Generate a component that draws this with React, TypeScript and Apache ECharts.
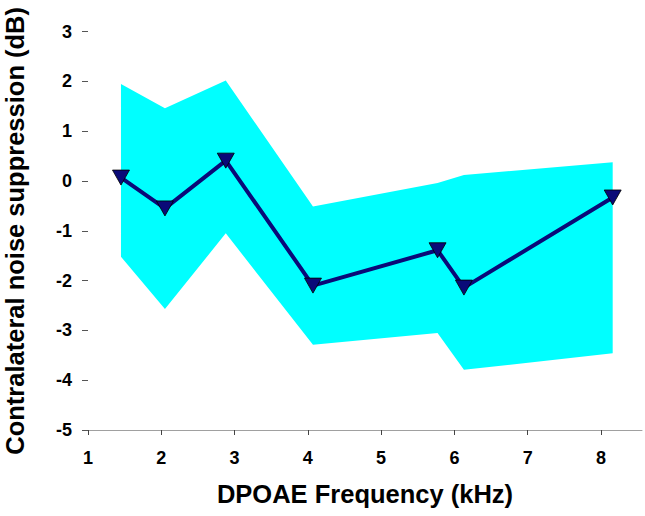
import React, { useEffect, useRef } from "react";
import * as echarts from "echarts";

const freq = [1.45, 2.05, 2.88, 4.07, 5.77, 6.13, 8.16];
const meanSuppression = [0.07, -0.55, 0.41, -2.1, -1.39, -2.14, -0.33];
const upperBound = [1.95, 1.46, 2.02, -0.51, -0.04, 0.12, 0.38];
const lowerBound = [-1.52, -2.57, -1.05, -3.29, -3.05, -3.79, -3.46];
const xTicks = [1, 2, 3, 4, 5, 6, 7, 8];
const yTicks = [-5, -4, -3, -2, -1, 0, 1, 2, 3];

const FONT = "Arial, 'Liberation Sans', Helvetica, sans-serif";

export default function App() {
  const ref = useRef<HTMLDivElement>(null);
  useEffect(() => {
    if (!ref.current) return;
    const chart = echarts.init(ref.current, undefined, { renderer: "svg" });
    const bandData = freq.map((f, i) => [f, upperBound[i], lowerBound[i]]);
    chart.setOption({
      animation: false,
      backgroundColor: "#ffffff",
      grid: {
        left: 88,
        right: 3,
        top: 31.7,
        bottom: 86,
        containLabel: false,
        outerBoundsMode: "none",
      },
      xAxis: {
        type: "value",
        min: 1,
        max: 8.56,
        interval: 1,
        name: "DPOAE Frequency (kHz)",
        nameLocation: "middle",
        nameGap: 51,
        nameTextStyle: { fontFamily: FONT, fontWeight: "bold", fontSize: 25.5, color: "#000" },
        axisLine: { show: true, onZero: false, lineStyle: { color: "#a0a0a0", width: 1 } },
        axisTick: {
          show: true,
          length: 5,
          lineStyle: { color: "#444", width: 1 },
          customValues: xTicks,
        },
        axisLabel: {
          fontFamily: FONT,
          fontWeight: "bold",
          fontSize: 18,
          color: "#000",
          margin: 19,
          customValues: xTicks,
        },
        splitLine: { show: false },
      },
      yAxis: {
        type: "value",
        min: -5,
        max: 3,
        interval: 1,
        name: "Contralateral noise suppression (dB)",
        nameLocation: "middle",
        nameRotate: 90,
        nameGap: 60,
        nameTextStyle: { fontFamily: FONT, fontWeight: "bold", fontSize: 25.5, color: "#000" },
        axisLine: { show: false, onZero: false },
        axisTick: {
          show: true,
          length: 6,
          lineStyle: { color: "#555", width: 1 },
          customValues: yTicks,
        },
        axisLabel: {
          fontFamily: FONT,
          fontWeight: "bold",
          fontSize: 18,
          color: "#000",
          margin: 16,
          customValues: yTicks,
        },
        splitLine: { show: false },
      },
      series: [
        {
          type: "custom",
          name: "band",
          data: bandData,
          encode: { x: 0, y: [1, 2] },
          silent: true,
          z: 1,
          renderItem: (params: any, api: any) => {
            if (params.dataIndex !== 0) return null;
            const pts: number[][] = [];
            for (let i = 0; i < freq.length; i++) pts.push(api.coord([freq[i], upperBound[i]]));
            for (let i = freq.length - 1; i >= 0; i--) pts.push(api.coord([freq[i], lowerBound[i]]));
            return {
              type: "polygon",
              shape: { points: pts },
              style: { fill: "#00ffff", stroke: "none" },
            };
          },
        },
        {
          type: "line",
          name: "mean",
          data: freq.map((f, i) => [f, meanSuppression[i]]),
          z: 3,
          lineStyle: { color: "#0a0a78", width: 4 },
          symbol: "triangle",
          symbolRotate: 180,
          symbolSize: [17, 15],
          itemStyle: { color: "#0a0a78", borderColor: "#000", borderWidth: 0.8 },
        },
      ],
    });
    return () => chart.dispose();
  }, []);
  return (
    <div
      ref={ref}
      style={{ width: 645, height: 516, position: "absolute", left: 0, top: 0 }}
    />
  );
}
